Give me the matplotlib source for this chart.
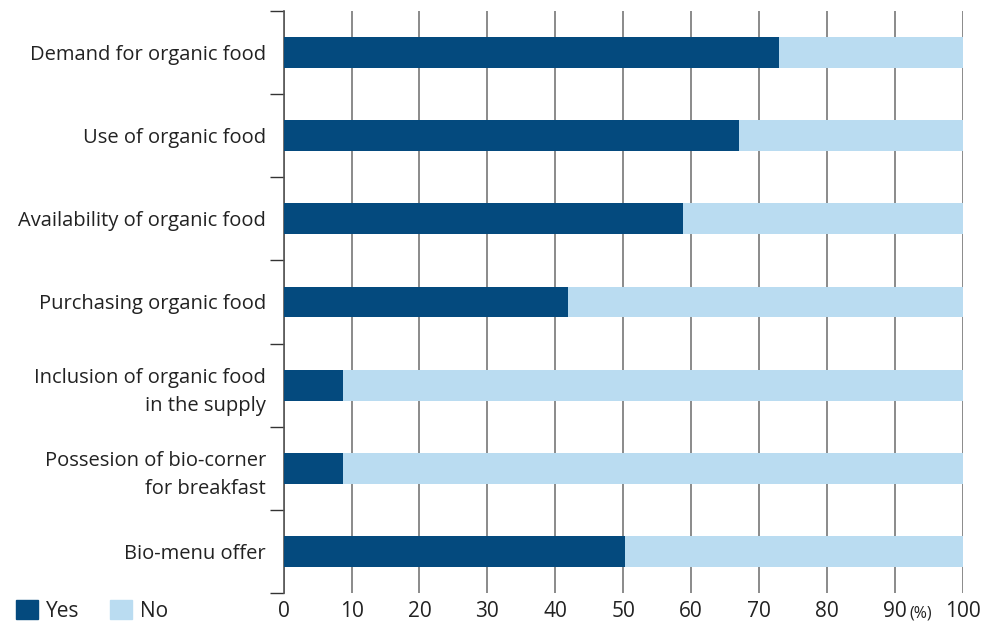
import numpy as np
import matplotlib
matplotlib.use('Agg')
from matplotlib import pyplot as plt
from matplotlib.patches import Patch

plt.rcParams['font.family'] = ['Open Sans', 'DejaVu Sans']

#======================================================
#! Data
categories = ['Demand for organic food',
              'Use of organic food',
              'Availability of organic food',
              'Purchasing organic food',
              'Inclusion of organic food\nin the supply',
              'Possesion of bio-corner\nfor breakfast',
              'Bio-menu offer']
yes = [72.9, 67.0, 58.8, 41.9, 8.8, 8.8, 50.3]
no = [100 - v for v in yes]
xticks = [0, 10, 20, 30, 40, 50, 60, 70, 80, 90, 100]

dark = '#044a7e'
light = '#badcf1'
txt = '#222222'

#======================================================
#! Plot
fig = plt.figure(figsize=(9.87, 6.23), dpi=100)
ax = fig.add_axes([0.2873, 0.0482, 0.6884, 0.9341])

y = np.arange(len(categories))
ax.barh(y, yes, height=0.37, color=dark, zorder=3)
ax.barh(y, no, left=yes, height=0.37, color=light, zorder=3)

ax.set_ylim(len(categories) - 0.5, -0.5)
ax.set_xlim(0, 100)

# y ticks at row boundaries, labels at row centres
ax.set_yticks(np.arange(-0.5, len(categories), 1.0))
ax.set_yticklabels([])
ax.set_yticks(y, minor=True)
ax.set_yticklabels(categories, minor=True, fontsize=14.5, color=txt,
                   linespacing=1.55)
ax.tick_params(axis='y', which='major', length=10, width=1, color='#333333')
ax.tick_params(axis='y', which='minor', length=0, pad=12.6)

ax.set_xticks(xticks)
ax.set_xticklabels([str(t) for t in xticks], fontsize=15, color=txt)
ax.tick_params(axis='x', length=0, pad=6)
ax.grid(axis='x', color='#777777', linewidth=1.2, zorder=0)

for s in ['top', 'right', 'bottom']:
    ax.spines[s].set_visible(False)
ax.spines['left'].set_color('#555555')
ax.spines['left'].set_linewidth(1.2)

fig.text(0.9325, 0.002, '(%)', fontsize=11.5, color=txt, va='bottom', ha='center')

handles = [Patch(color=dark, label='Yes'), Patch(color=light, label='No')]
fig.legend(handles=handles, loc='lower left', bbox_to_anchor=(16 / 987, 0.002),
           ncol=2, frameon=False, fontsize=15, handlelength=1.06, handleheight=1.06,
           columnspacing=1.44, handletextpad=0.4, borderpad=0, borderaxespad=0,
           labelcolor=txt)

plt.savefig('out.png', dpi=100)
